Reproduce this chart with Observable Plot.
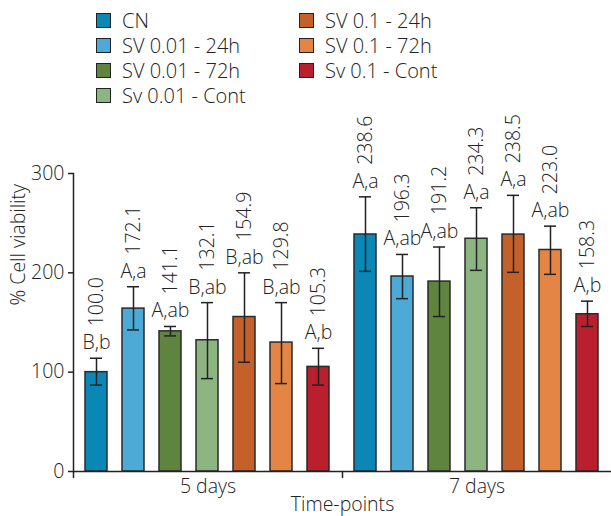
<!DOCTYPE html>
<html>
<head>
<meta charset="utf-8">
<script src="https://cdn.jsdelivr.net/npm/d3@7"></script>
<script src="https://cdn.jsdelivr.net/npm/@observablehq/plot@0.6"></script>
<style>
  body { margin: 0; background: #fff; width: 611px; overflow: hidden; }
  #legend {
    height: 110px; box-sizing: border-box; padding: 8px 0 0 96px;
    display: grid; grid-template-columns: 203px 203px; grid-template-rows: repeat(4, 25px);
    grid-auto-flow: column; font: 300 20px "Open Sans", sans-serif; color: #222;
  }
  .item { display: flex; align-items: center; gap: 11px; white-space: nowrap; }
  .sw { width: 15px; height: 15px; border: 1.5px solid #222; box-sizing: border-box; flex: none; }
</style>
</head>
<body>
<div id="legend"></div>
<div id="chart"></div>
<script>
const treatments = ["CN", "SV 0.01 - 24h", "SV 0.01 - 72h", "Sv 0.01 - Cont", "SV 0.1 - 24h", "SV 0.1 - 72h", "Sv 0.1 - Cont"];
const colors = ["#0a87b4", "#4daad6", "#5e8440", "#8db582", "#c4612a", "#e58545", "#ba1f2e"];
const timepoints = ["5 days", "7 days"];
const yTicks = [0, 100, 200, 300];

const values5 = [100.0, 164.0, 141.1, 132.1, 155.5, 129.8, 105.3];
const values7 = [238.6, 196.3, 191.2, 234.3, 238.5, 223.0, 158.3];
const labels5 = ["100.0", "172.1", "141.1", "132.1", "154.9", "129.8", "105.3"];
const labels7 = ["238.6", "196.3", "191.2", "234.3", "238.5", "223.0", "158.3"];
const letters5 = ["B,b", "A,a", "A,ab", "B,ab", "B,ab", "B,ab", "A,b"];
const letters7 = ["A,a", "A,ab", "A,ab", "A,a", "A,a", "A,ab", "A,b"];
const errHi5 = [114, 186, 146, 170, 200, 170, 124];
const errLo5 = [87, 142.5, 136.5, 93.5, 110, 88.5, 87];
const errHi7 = [276.5, 218.5, 226, 265.5, 278, 247, 171.5];
const errLo7 = [201.5, 174, 156, 202.5, 200.5, 198.5, 146];

const rows = [];
treatments.forEach((t, i) => {
  rows.push({time: timepoints[0], treatment: t, value: values5[i], label: labels5[i], letters: letters5[i], hi: errHi5[i], lo: errLo5[i]});
});
treatments.forEach((t, i) => {
  rows.push({time: timepoints[1], treatment: t, value: values7[i], label: labels7[i], letters: letters7[i], hi: errHi7[i], lo: errLo7[i]});
});

// legend
const legend = document.getElementById("legend");
treatments.forEach((t, i) => {
  const item = document.createElement("div");
  item.className = "item";
  const sw = document.createElement("span");
  sw.className = "sw";
  sw.style.background = colors[i];
  const lab = document.createElement("span");
  lab.textContent = t;
  item.appendChild(sw);
  item.appendChild(lab);
  legend.appendChild(item);
});

const ink = "#222";
const fs = 19.5;
const tickShape = {draw(context, l) { context.moveTo(0, 0); context.lineTo(0, -l); }};

const chart = Plot.plot({
  width: 611,
  height: 406,
  marginTop: 63,
  marginBottom: 45,
  marginLeft: 73,
  marginRight: 0,
  style: {fontFamily: '"Open Sans", sans-serif', fontSize: fs + "px", fontWeight: 300, color: ink, background: "#fff"},
  fx: {domain: timepoints, padding: 0},
  x: {domain: treatments, paddingInner: 0.4, paddingOuter: 0.24, axis: null},
  y: {domain: [0, 300]},
  color: {domain: treatments, range: colors},
  marks: [
    Plot.barY(rows, {fx: "time", x: "treatment", y: "value", fill: "treatment", stroke: "#2a2a2a", strokeWidth: 1.5}),
    Plot.ruleX(rows, {fx: "time", x: "treatment", y1: "lo", y2: "hi", stroke: ink, strokeWidth: 1.5}),
    Plot.tickY(rows, {fx: "time", x: "treatment", y: "hi", insetLeft: 5, insetRight: 5, stroke: ink, strokeWidth: 1.5}),
    Plot.tickY(rows, {fx: "time", x: "treatment", y: "lo", insetLeft: 5, insetRight: 5, stroke: ink, strokeWidth: 1.5}),
    Plot.ruleY([0], {stroke: ink, strokeWidth: 1.5}),
    Plot.frame({anchor: "left", facetAnchor: "left", stroke: ink, strokeWidth: 1.5}),
    Plot.vector([0], {frameAnchor: "bottom-left", length: 6, rotate: 180, anchor: "start", shape: tickShape, stroke: ink, strokeWidth: 1.5}),
    Plot.axisY({ticks: yTicks, tickSize: 5, tickPadding: 4, label: null, fontSize: fs, strokeWidth: 1.5}),
    Plot.axisFx({anchor: "bottom", tickSize: 0, tickPadding: 8, label: "Time-points", labelAnchor: "center", labelOffset: 39, fontSize: fs}),
    Plot.text(rows, {fx: "time", x: "treatment", y: "hi", text: "letters", dy: -9, lineAnchor: "bottom", fontSize: fs, fill: ink}),
    Plot.text(rows, {fx: "time", x: "treatment", y: "hi", text: "label", rotate: -90, textAnchor: "start", dy: -32, fontSize: fs, fill: ink}),
    Plot.text(["% Cell viability"], {fx: [timepoints[0]], frameAnchor: "left", rotate: -90, dx: -55, dy: -17, fontSize: fs, fill: ink})
  ]
});
document.getElementById("chart").appendChild(chart);
</script>
</body>
</html>
